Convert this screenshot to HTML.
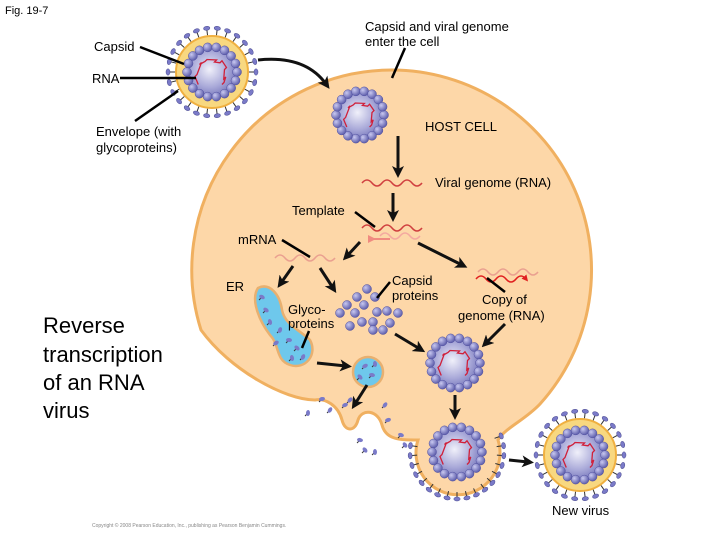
<!DOCTYPE html>
<html><head><style>
body{margin:0;background:#fff;}
svg{display:block;font-family:"Liberation Sans",Arial,sans-serif;}
.l{font-size:13px;fill:#000;}
</style></head><body>
<svg id="s" width="720" height="540" viewBox="0 0 720 540" xmlns="http://www.w3.org/2000/svg">
<defs>
<radialGradient id="cg" cx="0.45" cy="0.45" r="0.6"><stop offset="0" stop-color="#f0f0fa"/><stop offset="0.6" stop-color="#a8a8d8"/><stop offset="1" stop-color="#7070b8"/></radialGradient>
<radialGradient id="bg" cx="0.35" cy="0.35" r="0.7"><stop offset="0" stop-color="#c8c8f0"/><stop offset="1" stop-color="#5858a8"/></radialGradient>
<marker id="ah" markerWidth="4" markerHeight="4" refX="2" refY="2" orient="auto" markerUnits="strokeWidth"><path d="M0,0 L4,2 L0,4 L1,2 Z" fill="#111"/></marker>
<marker id="ahr" markerWidth="4" markerHeight="4" refX="2" refY="2" orient="auto" markerUnits="strokeWidth"><path d="M0,0 L4,2 L0,4 Z" fill="#e02020"/></marker>
<marker id="ahp" markerWidth="4" markerHeight="4" refX="2" refY="2" orient="auto" markerUnits="strokeWidth"><path d="M4,0 L0,2 L4,4 Z" fill="#f08a80"/></marker>
</defs>
<text x="5" y="14" font-size="11">Fig. 19-7</text>
<!-- cell -->
<path d="M392 70 A200 200 0 0 1 540 404 C525 420 505 428 498 440 A42 42 0 1 1 418 440 C400 440 386 440 382 425 C378 410 362 408 358 420 C355 432 345 432 342 420 C338 405 325 398 315 400 C285 400 230 370 201 330 A200 200 0 0 1 392 70 Z" fill="#fdd7a8" stroke="#f0b060" stroke-width="3"/>
<!-- ER -->
<path d="M258 288 C270 282 280 295 282 310 C285 325 300 330 310 340 C318 355 305 370 290 365 C275 360 280 345 270 335 C260 322 250 300 258 288 Z" fill="#6ec8ec" stroke="#e8b070" stroke-width="2.5"/>
<circle cx="368" cy="372" r="15" fill="#6ec8ec" stroke="#e8b070" stroke-width="2.5"/>
<g id="dyn"></g>
<!-- wavy rna -->
<g fill="none" stroke-width="1.6">
<path d="M362 183 q5 -6 10 0 t10 0 t10 0 t10 0 t10 0 t10 0" stroke="#d04040"/>
<path d="M362 228 q5 -6 10 0 t10 0 t10 0 t10 0 t10 0 t10 0" stroke="#d04040"/>
<path d="M380 236 q5 -6 10 0 t10 0 t10 0 t10 0" stroke="#f4a8a0"/>
<path d="M390 239 L372 239" stroke="#f08a80" stroke-width="2" marker-end="url(#ahp)"/>
<path d="M275 258 q5 -6 10 0 t10 0 t10 0 t10 0 t10 0 t10 0" stroke="#eaa090"/>
<path d="M478 272 q5 -6 10 0 t10 0 t10 0 t10 0 t10 0 t10 0" stroke="#eaa090"/>
<path d="M476 279 q5 -6 10 0 t10 0 t10 0 t10 0 t10 0" stroke="#e02020" marker-end="url(#ahr)"/>
</g>
<!-- arrows -->
<g stroke="#111" stroke-width="3" fill="none" marker-end="url(#ah)">
<path d="M258 60 Q305 55 326 84"/>
<path d="M398 136 L398 172"/>
<path d="M393 193 L393 216"/>
<path d="M360 242 L347 256"/>
<path d="M418 243 L462 265"/>
<path d="M293 266 L281 283"/>
<path d="M320 268 L333 288"/>
<path d="M395 334 L420 349"/>
<path d="M505 324 L486 343"/>
<path d="M317 363 L346 366"/>
<path d="M367 385 L355 404"/>
<path d="M455 395 L455 414"/>
<path d="M509 460 L528 462"/>
</g>
<g stroke="#000" stroke-width="2.5">
<line x1="140" y1="47" x2="184" y2="64"/>
<line x1="120" y1="78" x2="196" y2="78"/>
<line x1="135" y1="121" x2="178" y2="91"/>
<line x1="405" y1="48" x2="392" y2="78"/>
<line x1="355" y1="212" x2="375" y2="227"/>
<line x1="282" y1="240" x2="310" y2="257"/>
<line x1="390" y1="282" x2="377" y2="298"/>
<line x1="309" y1="331" x2="302" y2="348"/>
<line x1="487" y1="278" x2="505" y2="292"/>
</g>
<text class="l" x="365" y="31">Capsid and viral genome</text>
<text class="l" x="365" y="46">enter the cell</text>
<text class="l" x="94" y="51">Capsid</text>
<text class="l" x="92" y="83">RNA</text>
<text class="l" x="96" y="136">Envelope (with</text>
<text class="l" x="96" y="152">glycoproteins)</text>
<text class="l" x="425" y="131">HOST CELL</text>
<text class="l" x="435" y="187">Viral genome (RNA)</text>
<text class="l" x="292" y="215">Template</text>
<text class="l" x="238" y="244">mRNA</text>
<text class="l" x="226" y="291">ER</text>
<text class="l" x="392" y="285">Capsid</text>
<text class="l" x="392" y="300">proteins</text>
<text class="l" x="288" y="314">Glyco-</text>
<text class="l" x="288" y="328">proteins</text>
<text class="l" x="482" y="304">Copy of</text>
<text class="l" x="458" y="320">genome (RNA)</text>
<text class="l" x="552" y="515">New virus</text>
<text x="43" y="333" font-size="22">Reverse</text>
<text x="43" y="362" font-size="22">transcription</text>
<text x="43" y="390" font-size="22">of an RNA</text>
<text x="43" y="418" font-size="22">virus</text>
<text x="92" y="527" font-size="5" fill="#888">Copyright © 2008 Pearson Education, Inc., publishing as Pearson Benjamin Cummings.</text>
</svg>
<script>
var NS="http://www.w3.org/2000/svg",g=document.getElementById("dyn");
function el(t,a,p){var e=document.createElementNS(NS,t);for(var k in a)e.setAttribute(k,a[k]);(p||g).appendChild(e);return e;}
function spikes(cx,cy,r,n,a0,a1){a0=a0||0;a1=a1||360;for(var i=0;i<n;i++){var a=(a0+(a1-a0)*i/n)*Math.PI/180;var x=cx+r*Math.cos(a),y=cy+r*Math.sin(a);
el("line",{x1:cx+(r-5)*Math.cos(a),y1:cy+(r-5)*Math.sin(a),x2:x,y2:y,stroke:"#333","stroke-width":1});
el("ellipse",{cx:x+2*Math.cos(a),cy:y+2*Math.sin(a),rx:3.2,ry:2,fill:"#7a7ac8",stroke:"#4a4a90","stroke-width":0.5,transform:"rotate("+(a*180/Math.PI+90)+" "+(x+2*Math.cos(a))+" "+(y+2*Math.sin(a))+")"});}}
function capsid(cx,cy,r){el("circle",{cx:cx,cy:cy,r:r,fill:"url(#cg)"});var n=Math.round(2*Math.PI*r/8.5);
for(var i=0;i<n;i++){var a=2*Math.PI*i/n;el("circle",{cx:cx+r*Math.cos(a),cy:cy+r*Math.sin(a),r:4.5,fill:"url(#bg)",stroke:"#5050a0","stroke-width":0.5});}
var d="M"+(cx-r*0.55)+" "+(cy+r*0.5);var pts=[[-.6,.1],[-.5,-.3],[-.2,-.5],[.1,-.4],[.4,-.45],[.5,-.1],[.55,.2],[.4,.5]];
pts.forEach(function(p,i){d+=" L"+(cx+p[0]*r+(i%2?2:-2))+" "+(cy+p[1]*r+(i%2?-2:2))+" L"+(cx+p[0]*r)+" "+(cy+p[1]*r);});
el("path",{d:d,fill:"none",stroke:"#d0203a","stroke-width":1.3});}
function virus(cx,cy){spikes(cx,cy,42,26);el("circle",{cx:cx,cy:cy,r:36,fill:"#f8d880",stroke:"#f0b040","stroke-width":2});capsid(cx,cy,25);}
virus(212,72);virus(580,455);
capsid(360,115,24);capsid(455,363,25);
spikes(457,452,45,18,-20,200);
capsid(457,452,25);
[[367,289],[375,297],[357,297],[347,305],[364,305],[340,313],[355,313],[377,312],[387,311],[398,313],[350,326],[362,322],[373,322],[390,323],[373,330],[383,330]].forEach(function(p){el("circle",{cx:p[0],cy:p[1],r:4.5,fill:"url(#bg)",stroke:"#5050a0","stroke-width":0.5});});
function gp(x,y,r){el("line",{x1:x-3,y1:y+3,x2:x,y2:y,stroke:"#333","stroke-width":1});el("ellipse",{cx:x,cy:y,rx:3,ry:2,fill:"#7a7ac8",transform:"rotate("+(r||30)+" "+x+" "+y+")"});}
[[262,297],[266,310],[270,322],[280,330],[276,343],[289,340],[297,348],[292,358],[303,357],[365,366],[372,375],[360,377],[375,364],[330,410],[345,405],[360,440],[365,450],[375,452],[385,405],[388,420],[401,435],[405,445],[308,413],[350,400],[322,399]].forEach(function(p,i){gp(p[0],p[1],i*37);});
</script>
</body></html>
